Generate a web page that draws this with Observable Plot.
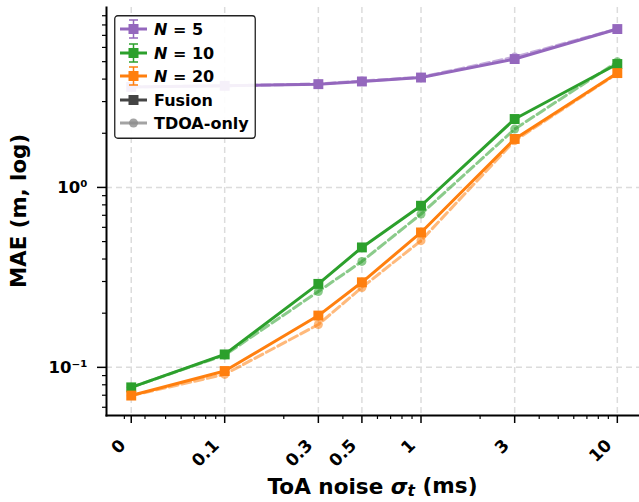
<!DOCTYPE html>
<html>
<head>
<meta charset="utf-8">
<script src="https://cdn.jsdelivr.net/npm/d3@7"></script>
<script src="https://cdn.jsdelivr.net/npm/@observablehq/plot@0.6"></script>
<style>
  html, body { margin: 0; padding: 0; background: #fff; }
  #wrap { position: relative; width: 639px; height: 502px; font-family: "DejaVu Sans", sans-serif; }
  #legend { position: absolute; left: 114px; top: 15px; }
</style>
</head>
<body>
<div id="wrap"></div>
<script>
// ---- data ----
const noise = [0, 0.1, 0.3, 0.5, 1, 3, 10];          // ToA noise σt (ms)
const xTickLabels = ["0", "0.1", "0.3", "0.5", "1", "3", "10"];
const fusionN5  = [3.62, 3.67, 3.75, 3.88, 4.08, 5.17, 7.59];
const tdoaN5    = [3.62, 3.67, 3.76, 3.90, 4.10, 5.30, 7.60];
const fusionN10 = [0.0774, 0.118, 0.291, 0.464, 0.791, 2.40, 4.85];
const tdoaN10   = [0.0774, 0.117, 0.264, 0.388, 0.711, 2.11, 4.99];
const fusionN20 = [0.0697, 0.0954, 0.194, 0.297, 0.562, 1.86, 4.32];
const tdoaN20   = [0.0697, 0.0914, 0.173, 0.278, 0.506, 1.82, 4.30];
const Ns = [5, 10, 20];
const nColors = ["#9467bd", "#2ca02c", "#ff7f0e"];
const yMajor = [0.1, 1];
const yMajorLabels = ["10⁻¹", "10⁰"];
const yMinor = [0.06, 0.07, 0.08, 0.09, 0.2, 0.3, 0.4, 0.5, 0.6, 0.7, 0.8, 0.9, 2, 3, 4, 5, 6, 7, 8, 9];
const xMinor = [-0.01, 0.02, 0.05, 0.06, 0.07, 0.08, 0.09, 0.2, 0.4, 0.6, 0.7, 0.8, 0.9, 2, 4, 5, 6, 7, 8, 9];
const xTitle = "ToA noise σt (ms)";
const yTitle = "MAE (m, log)";

const series = [
  {N: 5, method: "Fusion", values: fusionN5},
  {N: 5, method: "TDOA-only", values: tdoaN5},
  {N: 10, method: "Fusion", values: fusionN10},
  {N: 10, method: "TDOA-only", values: tdoaN10},
  {N: 20, method: "Fusion", values: fusionN20},
  {N: 20, method: "TDOA-only", values: tdoaN20}
];
const rows = series.flatMap(s => s.values.map((v, i) => ({noise: noise[i], mae: v, N: s.N, method: s.method, key: s.N + s.method})));
const fusion = rows.filter(d => d.method === "Fusion");
const tdoa = rows.filter(d => d.method === "TDOA-only");

// symmetric-log style transform for the x axis (linear near zero)
const C = 0.05, L = 0.175;
const symlog = v => Math.abs(v) <= C ? v / C * L : Math.sign(v) * (L + Math.log10(Math.abs(v) / C));

const gridStyle = {stroke: "#dcdcdc", strokeOpacity: 1, strokeDasharray: "6,4", strokeWidth: 1.5};

const W = 639, H = 502, mL = 106, mR = 0, mT = 7, mB = 87;
const chart = Plot.plot({
  width: W, height: H,
  marginLeft: mL, marginRight: mR, marginTop: mT, marginBottom: mB,
  style: {fontFamily: "DejaVu Sans, sans-serif", background: "#fff", color: "#000"},
  x: {type: "linear", transform: symlog, domain: [-0.126, 2.589]},
  y: {type: "log", domain: [0.054, 10]},
  color: {domain: Ns, range: nColors},
  marks: [
    Plot.gridX(noise, gridStyle),
    Plot.gridY(yMajor, gridStyle),
    Plot.line(tdoa, {x: "noise", y: "mae", z: "key", stroke: "N", strokeWidth: 3, strokeDasharray: "9,4", strokeOpacity: 0.55}),
    Plot.dot(tdoa, {x: "noise", y: "mae", fill: "N", r: 4.5, fillOpacity: 0.55}),
    Plot.line(fusion, {x: "noise", y: "mae", z: "key", stroke: "N", strokeWidth: 3}),
    Plot.dot(fusion, {x: "noise", y: "mae", fill: "N", symbol: "square", r: 5.6}),
    Plot.axisY(yMajor, {tickSize: 9, tickPadding: 10, strokeWidth: 1.5, fontSize: 16.5, fontWeight: "bold",
      tickFormat: d => yMajorLabels[yMajor.indexOf(d)], label: null}),
    Plot.axisY(yMinor, {tickSize: 4, strokeWidth: 1.2, tickFormat: () => "", label: null}),
    Plot.axisX(noise, {tickSize: 8, strokeWidth: 1.5, tickFormat: () => "", label: null}),
    Plot.axisX(xMinor, {tickSize: 4, strokeWidth: 1.2, tickFormat: () => "", label: null}),
    Plot.text(noise, {x: d => d, frameAnchor: "bottom", text: (d, i) => xTickLabels[i], rotate: -45,
      textAnchor: "end", lineAnchor: "middle", dx: -8.5, dy: 27, fontSize: 17, fontWeight: "bold"}),
    Plot.frame({anchor: "left", strokeWidth: 2}),
    Plot.frame({anchor: "bottom", strokeWidth: 2})
  ]
});

const wrap = document.getElementById("wrap");
wrap.appendChild(chart);

// ---- axis titles ----
const ns = "http://www.w3.org/2000/svg";
function fitText(t, target) {
  const len = t.getComputedTextLength();
  const fs = parseFloat(t.getAttribute("font-size"));
  t.setAttribute("font-size", (fs * target / len).toFixed(2));
}
const xt = document.createElementNS(ns, "text");
xt.setAttribute("font-size", "21"); xt.setAttribute("font-weight", "bold");
xt.setAttribute("text-anchor", "middle");
xt.setAttribute("x", (mL + (W - mR)) / 2); xt.setAttribute("y", 494);
const [pre, post] = xTitle.split("σt");
const t1 = document.createElementNS(ns, "tspan"); t1.textContent = pre;
const t2 = document.createElementNS(ns, "tspan"); t2.textContent = "σ"; t2.setAttribute("font-style", "italic");
const t3 = document.createElementNS(ns, "tspan"); t3.textContent = "t"; t3.setAttribute("font-style", "italic");
t3.setAttribute("font-size", "0.72em"); t3.setAttribute("dy", "0.15em");
const t4 = document.createElementNS(ns, "tspan"); t4.textContent = post; t4.setAttribute("dy", "-0.15em");
xt.append(t1, t2, t3, t4);
chart.appendChild(xt);
fitText(xt, 210);

const yt = document.createElementNS(ns, "text");
yt.setAttribute("font-size", "21"); yt.setAttribute("font-weight", "bold");
yt.setAttribute("text-anchor", "middle");
yt.setAttribute("transform", `translate(26,${(mT + (H - mB)) / 2}) rotate(-90)`);
yt.textContent = yTitle;
chart.appendChild(yt);
fitText(yt, 154);

// ---- legend ----
const legendEntries = [
  {label: "N", suffix: " = 5", color: nColors[0], kind: "err"},
  {label: "N", suffix: " = 10", color: nColors[1], kind: "err"},
  {label: "N", suffix: " = 20", color: nColors[2], kind: "err"},
  {label: "", suffix: "Fusion", color: "#444444", kind: "square"},
  {label: "", suffix: "TDOA-only", color: "#8c8c8c", kind: "circle"}
];
const lg = document.createElementNS(ns, "svg");
lg.setAttribute("id", "legend");
lg.setAttribute("width", 142); lg.setAttribute("height", 124);
let html = `<rect x="0.75" y="0.75" width="140.5" height="122.5" rx="3" fill="#fff" fill-opacity="0.9" stroke="#222" stroke-width="1.3"/>`;
const rowY = [14, 38, 61, 85, 108];
const fs = 16;
legendEntries.forEach((e, i) => {
  const y = rowY[i];
  if (e.kind === "err") {
    html += `<line x1="6" x2="33" y1="${y}" y2="${y}" stroke="${e.color}" stroke-width="3"/>`;
    html += `<line x1="19.5" x2="19.5" y1="${y-9}" y2="${y+9}" stroke="${e.color}" stroke-width="1.5"/>`;
    html += `<line x1="15" x2="24" y1="${y-9}" y2="${y-9}" stroke="${e.color}" stroke-width="1.5"/>`;
    html += `<line x1="15" x2="24" y1="${y+9}" y2="${y+9}" stroke="${e.color}" stroke-width="1.5"/>`;
    html += `<rect x="14.5" y="${y-5}" width="10" height="10" fill="${e.color}"/>`;
    html += `<text x="40" y="${y}" dy="0.36em" font-size="${fs}" font-weight="bold" font-family="DejaVu Sans"><tspan font-style="italic">${e.label}</tspan>${e.suffix}</text>`;
  } else if (e.kind === "square") {
    html += `<line x1="6" x2="33" y1="${y}" y2="${y}" stroke="${e.color}" stroke-width="3"/>`;
    html += `<rect x="14.5" y="${y-5}" width="10" height="10" fill="${e.color}"/>`;
    html += `<text x="40" y="${y}" dy="0.36em" font-size="${fs}" font-weight="bold" font-family="DejaVu Sans">${e.suffix}</text>`;
  } else {
    html += `<line x1="6" x2="33" y1="${y}" y2="${y}" stroke="${e.color}" stroke-width="3" stroke-opacity="0.8"/>`;
    html += `<circle cx="19.5" cy="${y}" r="4.5" fill="${e.color}" fill-opacity="0.8"/>`;
    html += `<text x="40" y="${y}" dy="0.36em" font-size="${fs}" font-weight="bold" font-family="DejaVu Sans">${e.suffix}</text>`;
  }
});
lg.innerHTML = html;
wrap.appendChild(lg);
</script>
</body>
</html>
